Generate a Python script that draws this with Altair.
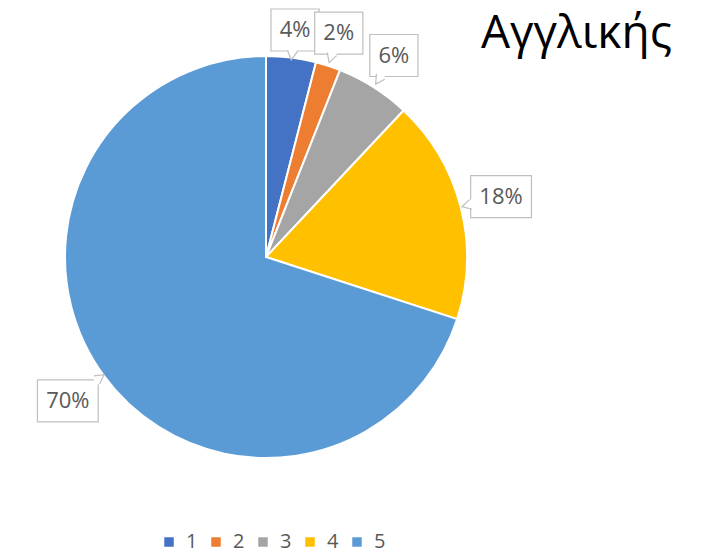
import altair as alt
import pandas as pd

categories = ["1", "2", "3", "4", "5"]
values = [4, 2, 6, 18, 70]
colors = ["#4472C4", "#ED7D31", "#A5A5A5", "#FFC000", "#5B9BD5"]
title_text = "Αγγλικής"

df = pd.DataFrame({"cat": categories, "value": values})

CX, CY, R, GAP, HH = 258, 249, 201, 7, 21
FONT = "Open Sans"
BORDER = "#BFBFBF"

base = alt.Chart(df)

pie = base.mark_arc(outerRadius=R, stroke="white", strokeWidth=2).encode(
    theta=alt.Theta("value:Q", stack=True),
    order=alt.Order("cat:N"),
    color=alt.Color(
        "cat:N",
        scale=alt.Scale(domain=categories, range=colors),
        legend=alt.Legend(
            title=None, orient="none", direction="horizontal",
            legendX=151, legendY=524, symbolType="square", symbolSize=90,
            symbolStrokeWidth=0, labelFontSize=20, labelColor="#595959",
            labelFont=FONT, columnPadding=8, labelOffset=7,
        ),
    ),
    x=alt.value(CX),
    y=alt.value(CY),
)

lab = base.transform_joinaggregate(total="sum(value)").transform_window(
    cum="sum(value)", sort=[alt.SortField("cat")], frame=[None, 0]
).transform_calculate(
    ang="(datum.cum - datum.value/2)/datum.total*2*PI",
    txt="format(datum.value/datum.total, '.0%')",
).transform_calculate(
    w="12.6*length(datum.txt) + 23",
).transform_calculate(
    lr=f"{R} + {GAP} + abs(sin(datum.ang))*datum.w/2 + abs(cos(datum.ang))*{HH}",
).transform_calculate(
    lx=f"{CX} + datum.lr*sin(datum.ang)",
    ly=f"max({HH} + 1, {CY} - datum.lr*cos(datum.ang))",
).transform_calculate(
    x0="datum.lx - datum.w/2", x1="datum.lx + datum.w/2",
    y0=f"datum.ly - {HH}", y1=f"datum.ly + {HH}",
    dx="-sin(datum.ang)", dy="cos(datum.ang)",
).transform_calculate(
    t=f"min(datum.w/2/max(abs(datum.dx), 0.001), {HH}/max(abs(datum.dy), 0.001))",
).transform_calculate(
    px="datum.lx + datum.t*datum.dx",
    py="datum.ly + datum.t*datum.dy",
    deg="datum.ang*180/PI",
)

boxes = lab.mark_rect(fill="white", stroke=BORDER, strokeWidth=1.2).encode(
    x=alt.X("x0:Q", scale=None), x2="x1:Q",
    y=alt.Y("y0:Q", scale=None), y2="y1:Q",
)

ptr_enc = dict(
    x=alt.X("px:Q", scale=None), y=alt.Y("py:Q", scale=None),
    angle=alt.Angle("deg:Q", scale=None),
)
ptr_fill = lab.mark_point(
    shape="M-0.55,-0.25 L0,1 L0.55,-0.25 Z", size=324, filled=True,
    fill="white", strokeWidth=0, opacity=1,
).encode(**ptr_enc)
ptr_line = lab.mark_point(
    shape="M-0.55,0 L0,1 L0.55,0", size=324, filled=False,
    stroke=BORDER, strokeWidth=1.2, opacity=1,
).encode(**ptr_enc)

texts = lab.mark_text(fontSize=22, font=FONT, color="#595959", baseline="middle", align="center").encode(
    x=alt.X("lx:Q", scale=None), y=alt.Y("ly:Q", scale=None), text="txt:N"
)

title = alt.Chart(pd.DataFrame({"t": [title_text]})).mark_text(
    fontSize=46, font=FONT, color="#000000", align="left", baseline="alphabetic"
).encode(x=alt.value(473), y=alt.value(40), text="t:N")

chart = alt.layer(pie, boxes, ptr_fill, ptr_line, texts, title).properties(
    width=688, height=540, padding=0,
    autosize=alt.AutoSizeParams(type="none"),
).configure_view(stroke=None)

chart.save("out.html", embed_options={"renderer": "svg", "actions": False})
